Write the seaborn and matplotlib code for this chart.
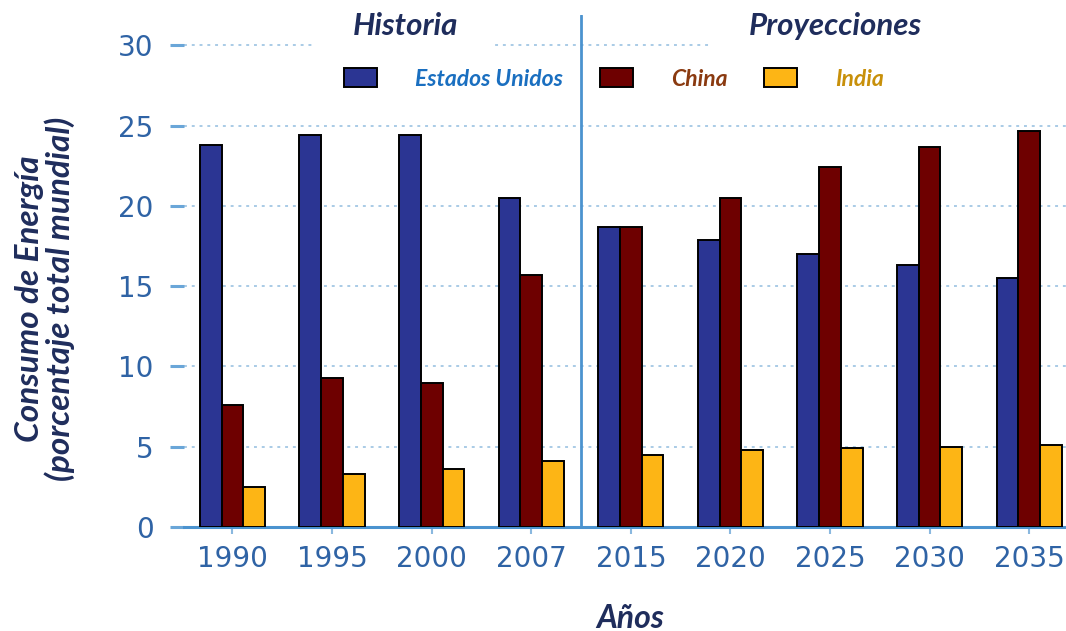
import matplotlib
matplotlib.use("Agg")
import matplotlib.pyplot as plt
from matplotlib.patches import Rectangle
import seaborn as sns
import pandas as pd

years = ["1990", "1995", "2000", "2007", "2015", "2020", "2025", "2030", "2035"]
series_names = ["Estados Unidos", "China", "India"]
usa = [23.8, 24.4, 24.4, 20.5, 18.7, 17.9, 17.0, 16.3, 15.5]
china = [7.6, 9.3, 9.0, 15.7, 18.7, 20.5, 22.4, 23.7, 24.7]
india = [2.5, 3.3, 3.6, 4.1, 4.5, 4.8, 4.9, 5.0, 5.1]
y_ticks = [0, 5, 10, 15, 20, 25, 30]
section_titles = ["Historia", "Proyecciones"]
x_label = "Años"
y_label = "Consumo de Energía\n(porcentaje total mundial)"

bar_colors = ["#2b3593", "#6e0000", "#fdb515"]
legend_text_colors = ["#1a6fc0", "#8a3a10", "#c8900a"]
navy = "#1f2d5c"
tick_color = "#2f63a5"
axis_blue = "#4b93cf"
grid_blue = "#a9cbe6"

df = pd.DataFrame({
    "Año": years * 3,
    "Serie": [series_names[0]] * len(years) + [series_names[1]] * len(years) + [series_names[2]] * len(years),
    "Valor": usa + china + india,
})

sns.set_theme(style="white")
title_font = ["Lato", "DejaVu Sans"]

fig = plt.figure(figsize=(10.66, 6.31), dpi=100)
ax = fig.add_axes([184 / 1066, 1 - 527 / 631, 1 - 184 / 1066, 512 / 631])

sns.barplot(data=df, x="Año", y="Valor", hue="Serie", order=years, hue_order=series_names,
            palette=bar_colors, width=0.655, edgecolor="black", linewidth=1.4,
            saturation=1, ax=ax, zorder=3)

ax.set_xlim(-0.487, 8.37)
ax.set_ylim(0, 31.9)
ax.set_yticks(y_ticks)
ax.set_xlabel("")
ax.set_ylabel("")

for s in ["top", "right", "left"]:
    ax.spines[s].set_visible(False)
ax.spines["bottom"].set_color(axis_blue)
ax.spines["bottom"].set_linewidth(2.2)

ax.yaxis.grid(True, linestyle=(0, (1.5, 2.5)), color=grid_blue, linewidth=1.4, zorder=0)
ax.xaxis.grid(False)
ax.set_axisbelow(True)

ax.tick_params(axis="y", length=10, width=2.2, color="#6aa6d8", pad=12, labelsize=20,
               labelcolor=tick_color, left=True)
ax.tick_params(axis="x", length=5, width=1.5, color="#8ab8df", pad=8, labelsize=20,
               labelcolor=tick_color, bottom=True)
for lab in ax.get_xticklabels() + ax.get_yticklabels():
    lab.set_fontfamily(["DejaVu Sans"])

ax.axvline(3.5, color=axis_blue, linewidth=2, zorder=4)

# white cover boxes behind section titles
fig.patches.append(Rectangle((315 / 1066, 1 - 48 / 631), 180 / 1066, 48 / 631,
                             transform=fig.transFigure, facecolor="white", edgecolor="none", zorder=2))
fig.patches.append(Rectangle((712 / 1066, 1 - 48 / 631), 354 / 1066, 48 / 631,
                             transform=fig.transFigure, facecolor="white", edgecolor="none", zorder=2))

fig.text(405 / 1066, 1 - 26 / 631, section_titles[0], ha="center", va="center", fontsize=22.5,
         fontweight="bold", fontstyle="italic", color=navy, family=title_font, zorder=5)
fig.text(835 / 1066, 1 - 26 / 631, section_titles[1], ha="center", va="center", fontsize=22.5,
         fontweight="bold", fontstyle="italic", color=navy, family=title_font, zorder=5)

handles, labels = ax.get_legend_handles_labels()
leg = ax.legend(handles, labels, ncol=3, frameon=False, loc="center left",
                bbox_to_anchor=(344 / 1066, 1 - 79 / 631), bbox_transform=fig.transFigure,
                borderpad=0, borderaxespad=0, handlelength=1.45, handleheight=0.9,
                handletextpad=1.65, columnspacing=1.6,
                prop={"family": title_font, "weight": "bold", "style": "italic", "size": 16.5})
for t, c in zip(leg.get_texts(), legend_text_colors):
    t.set_color(c)

fig.text(45 / 1066, 1 - 299 / 631, y_label, rotation=90, ha="center", va="center",
         multialignment="center", fontsize=24, fontweight="bold", fontstyle="italic",
         color=navy, family=title_font, linespacing=0.98)
fig.text(630 / 1066, 1 - 618 / 631, x_label, ha="center", va="center", fontsize=23,
         fontweight="bold", fontstyle="italic", color=navy, family=title_font)

fig.savefig("out.png", dpi=100)
